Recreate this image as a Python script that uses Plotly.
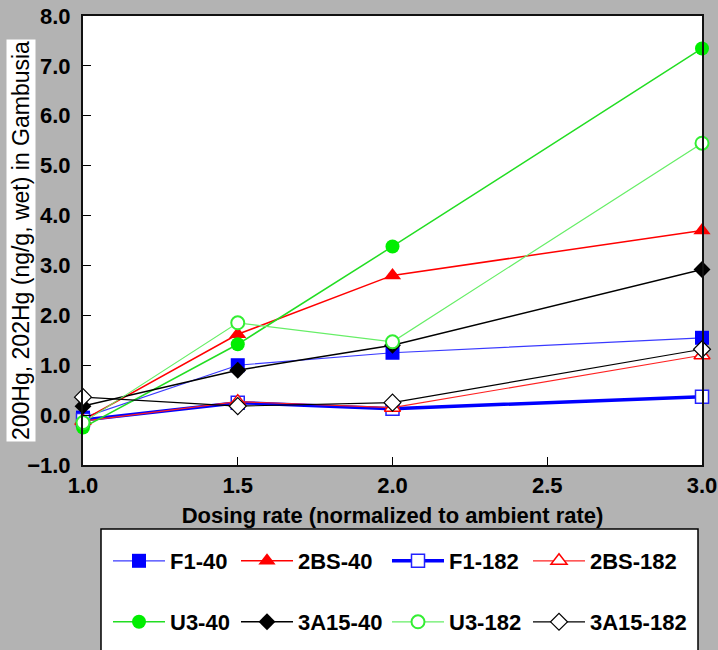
import plotly.graph_objects as go

dosing_rate = [1.0, 1.5, 2.0, 3.0]

series_names = ["F1-40", "2BS-40", "F1-182", "2BS-182",
                "U3-40", "3A15-40", "U3-182", "3A15-182"]

f1_40 = [-0.05, 1.00, 1.25, 1.55]
bs2_40 = [-0.10, 1.62, 2.80, 3.70]
f1_182 = [-0.10, 0.25, 0.13, 0.37]
bs2_182 = [-0.12, 0.27, 0.15, 1.20]
u3_40 = [-0.25, 1.42, 3.38, 7.35]
a3a15_40 = [0.18, 0.90, 1.40, 2.92]
u3_182 = [-0.15, 1.85, 1.47, 5.45]
a3a15_182 = [0.36, 0.18, 0.25, 1.32]

values = [f1_40, bs2_40, f1_182, bs2_182, u3_40, a3a15_40, u3_182, a3a15_182]

styles = [
    dict(line=dict(color="#3a3aff", width=1.2),
         marker=dict(symbol="square", size=14, color="#0000ff", line=dict(width=0))),
    dict(line=dict(color="#ff0000", width=1.5),
         marker=dict(symbol="triangle-up", size=15, color="#ff0000", line=dict(width=0))),
    dict(line=dict(color="#0000ff", width=3.5),
         marker=dict(symbol="square", size=13, color="white", line=dict(color="#2222ff", width=1.5))),
    dict(line=dict(color="#ff2222", width=1.2),
         marker=dict(symbol="triangle-up", size=14, color="white", line=dict(color="#ff0000", width=1.5))),
    dict(line=dict(color="#22dd22", width=1.5),
         marker=dict(symbol="circle", size=14, color="#00ee00", line=dict(width=0))),
    dict(line=dict(color="#000000", width=1.5),
         marker=dict(symbol="diamond", size=13, color="#000000", line=dict(width=0))),
    dict(line=dict(color="#66ee66", width=1.2),
         marker=dict(symbol="circle", size=13, color="white", line=dict(color="#33ee33", width=2))),
    dict(line=dict(color="#000000", width=1.2),
         marker=dict(symbol="diamond", size=13, color="white", line=dict(color="#000000", width=1.2))),
]

FONT = "Arial, 'Liberation Sans', sans-serif"
W, H = 718, 650

fig = go.Figure()
legend_names = ["legend"] + ["legend%d" % i for i in range(2, 9)]
for i, (name, ys, st) in enumerate(zip(series_names, values, styles)):
    fig.add_trace(go.Scatter(
        x=dosing_rate, y=ys, name=name, mode="lines+markers",
        line=st["line"], marker=st["marker"], cliponaxis=False,
        legend=legend_names[i],
    ))

# legend positions (pixel columns and rows of the reference)
col_px = [113, 241, 392, 533]
row_px = [561, 622]
legend_layout = {}
for i, ln in enumerate(legend_names):
    c = i % 4
    r = i // 4
    legend_layout[ln] = dict(
        xref="container", yref="container",
        x=(col_px[c] - 5) / W, y=1 - row_px[r] / H,
        xanchor="left", yanchor="middle",
        bgcolor="rgba(0,0,0,0)", borderwidth=0,
        itemwidth=52,
        font=dict(family=FONT, size=22, color="black", weight="bold"),
    )

plot_l, plot_r, plot_t, plot_b = 83, 702, 16, 465
pw = plot_r - plot_l
ph = plot_b - plot_t

def px_x(p):
    return (p - plot_l) / pw

def px_y(p):
    return (plot_b - p) / ph

fig.update_layout(
    width=W, height=H,
    margin=dict(l=plot_l, r=W - plot_r, t=plot_t, b=H - plot_b, autoexpand=False),
    paper_bgcolor="#b3b3b3",
    plot_bgcolor="white",
    showlegend=True,
    font=dict(family=FONT, color="black"),
    xaxis=dict(
        range=[1.0, 3.0], dtick=0.5, tick0=1.0, tickformat=".1f",
        showgrid=False, zeroline=False, automargin=False,
        showline=True, linecolor="#111", linewidth=2, mirror=True,
        ticks="inside", ticklen=8, tickwidth=1.2, tickcolor="black",
        tickfont=dict(family=FONT, size=22, color="black", weight="bold"),
        title=dict(text="Dosing rate (normalized to ambient rate)",
                   font=dict(family=FONT, size=22, color="black", weight="bold"),
                   standoff=10),
    ),
    yaxis=dict(
        range=[-1.0, 8.0], dtick=1.0, tick0=0, tickformat=".1f",
        showgrid=False, zeroline=False, automargin=False,
        showline=True, linecolor="#111", linewidth=2, mirror=True,
        ticks="inside", ticklen=8, tickwidth=1.2, tickcolor="black",
        tickfont=dict(family=FONT, size=22, color="black", weight="bold"),
        ticklabelstandoff=6,
    ),
    shapes=[dict(
        type="rect", xref="paper", yref="paper",
        x0=px_x(101), x1=px_x(698), y0=px_y(655), y1=px_y(529),
        line=dict(color="black", width=1.5), fillcolor="white", layer="below",
    )],
    annotations=[dict(
        text="200Hg, 202Hg (ng/g, wet) in Gambusia",
        textangle=-90, xref="paper", yref="paper",
        x=px_x(21), y=px_y(241), xanchor="center", yanchor="middle",
        showarrow=False, bgcolor="white", borderpad=1,
        font=dict(family=FONT, size=23, color="black"),
    )],
    **legend_layout,
)

fig.write_html("out.html")
